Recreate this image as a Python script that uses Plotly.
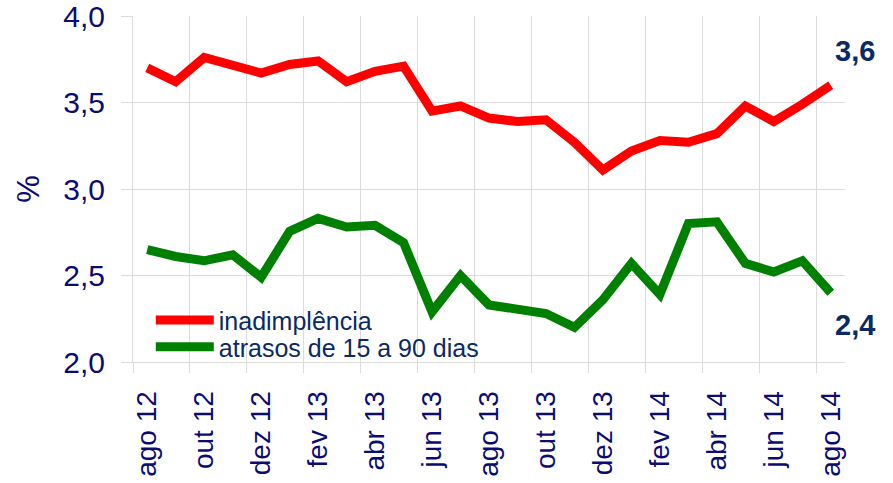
import plotly.graph_objects as go

# ---- data ----
months = ["ago 12", "set 12", "out 12", "nov 12", "dez 12", "jan 13", "fev 13", "mar 13",
          "abr 13", "mai 13", "jun 13", "jul 13", "ago 13", "set 13", "out 13", "nov 13",
          "dez 13", "jan 14", "fev 14", "mar 14", "abr 14", "mai 14", "jun 14", "jul 14",
          "ago 14"]
inadimplencia = [3.70, 3.62, 3.76, 3.72, 3.67, 3.72, 3.74, 3.62, 3.68, 3.71, 3.45, 3.48,
                 3.41, 3.39, 3.40, 3.27, 3.11, 3.22, 3.28, 3.27, 3.32, 3.48, 3.39, 3.49,
                 3.60]
atrasos = [2.65, 2.61, 2.585, 2.62, 2.49, 2.755, 2.83, 2.78, 2.79, 2.69, 2.29, 2.50,
           2.33, 2.31, 2.28, 2.20, 2.36, 2.57, 2.39, 2.80, 2.81, 2.57, 2.52, 2.585,
           2.40]
series_names = ["inadimplência", "atrasos de 15 a 90 dias"]
y_ticks = [2.0, 2.5, 3.0, 3.5, 4.0]
y_tick_labels = ["2,0", "2,5", "3,0", "3,5", "4,0"]

idx = list(range(len(months)))
label_idx = idx[::2]
label_text = [months[i] for i in label_idx]
boundaries = [i - 0.5 for i in label_idx]

NAVY = "#0c0c70"
DARK = "#0b2a62"
GRID = "#dcdcdc"
FONT = "Liberation Sans, Arial, sans-serif"

fig = go.Figure()
fig.add_trace(go.Scatter(x=idx, y=inadimplencia, mode="lines", name=series_names[0],
                         line=dict(color="#ff0000", width=9), legend="legend"))
fig.add_trace(go.Scatter(x=idx, y=atrasos, mode="lines", name=series_names[1],
                         line=dict(color="#008000", width=9), legend="legend2"))

def fmt(v):
    return f"{v:.1f}".replace(".", ",")

fig.add_annotation(x=idx[-1], y=inadimplencia[-1], text="<b>" + fmt(inadimplencia[-1]) + "</b>",
                   showarrow=False, xshift=24, yshift=34,
                   font=dict(family=FONT, size=29, color=DARK))
fig.add_annotation(x=idx[-1], y=atrasos[-1], text="<b>" + fmt(atrasos[-1]) + "</b>",
                   showarrow=False, xshift=24, yshift=-32,
                   font=dict(family=FONT, size=29, color=DARK))

leg_common = dict(xanchor="left", yanchor="middle", itemwidth=58,
                  bgcolor="rgba(0,0,0,0)", font=dict(family=FONT, size=25, color=DARK))

fig.update_layout(
    width=893, height=483,
    margin=dict(l=133, r=48, t=16, b=120.5, autoexpand=False),
    plot_bgcolor="white", paper_bgcolor="white",
    font=dict(family=FONT, color=NAVY),
    showlegend=True,
    legend=dict(x=0.025, y=0.121, **leg_common),
    legend2=dict(x=0.025, y=0.043, **leg_common),
    xaxis=dict(
        range=[-0.5, len(months) - 0.5],
        automargin=False,
        tickmode="array", tickvals=label_idx, ticktext=label_text,
        tickangle=-90, ticks="", showgrid=False,
        ticklabelstandoff=17,
        tickfont=dict(family=FONT, size=28, color=NAVY),
        showline=True, linecolor=GRID, linewidth=1,
        zeroline=False,
        minor=dict(tickmode="array", tickvals=boundaries, ticks="outside", ticklen=10,
                   tickcolor=GRID, tickwidth=1, showgrid=True, gridcolor=GRID, gridwidth=1),
    ),
    yaxis=dict(
        range=[2.0, 4.0],
        automargin=False,
        tickmode="array", tickvals=y_ticks, ticktext=y_tick_labels,
        ticks="outside", ticklen=11, tickcolor=GRID,
        ticklabelstandoff=10, ticklabeloverflow="allow",
        tickfont=dict(family=FONT, size=30, color=NAVY),
        showgrid=True, gridcolor=GRID, gridwidth=1,
        showline=True, linecolor=GRID, linewidth=1,
        zeroline=False,
        title=dict(text="%", font=dict(family=FONT, size=31, color=NAVY), standoff=14),
    ),
)

fig.write_html("out.html", config={"displayModeBar": False},
               post_script="document.body.style.margin='0';")
